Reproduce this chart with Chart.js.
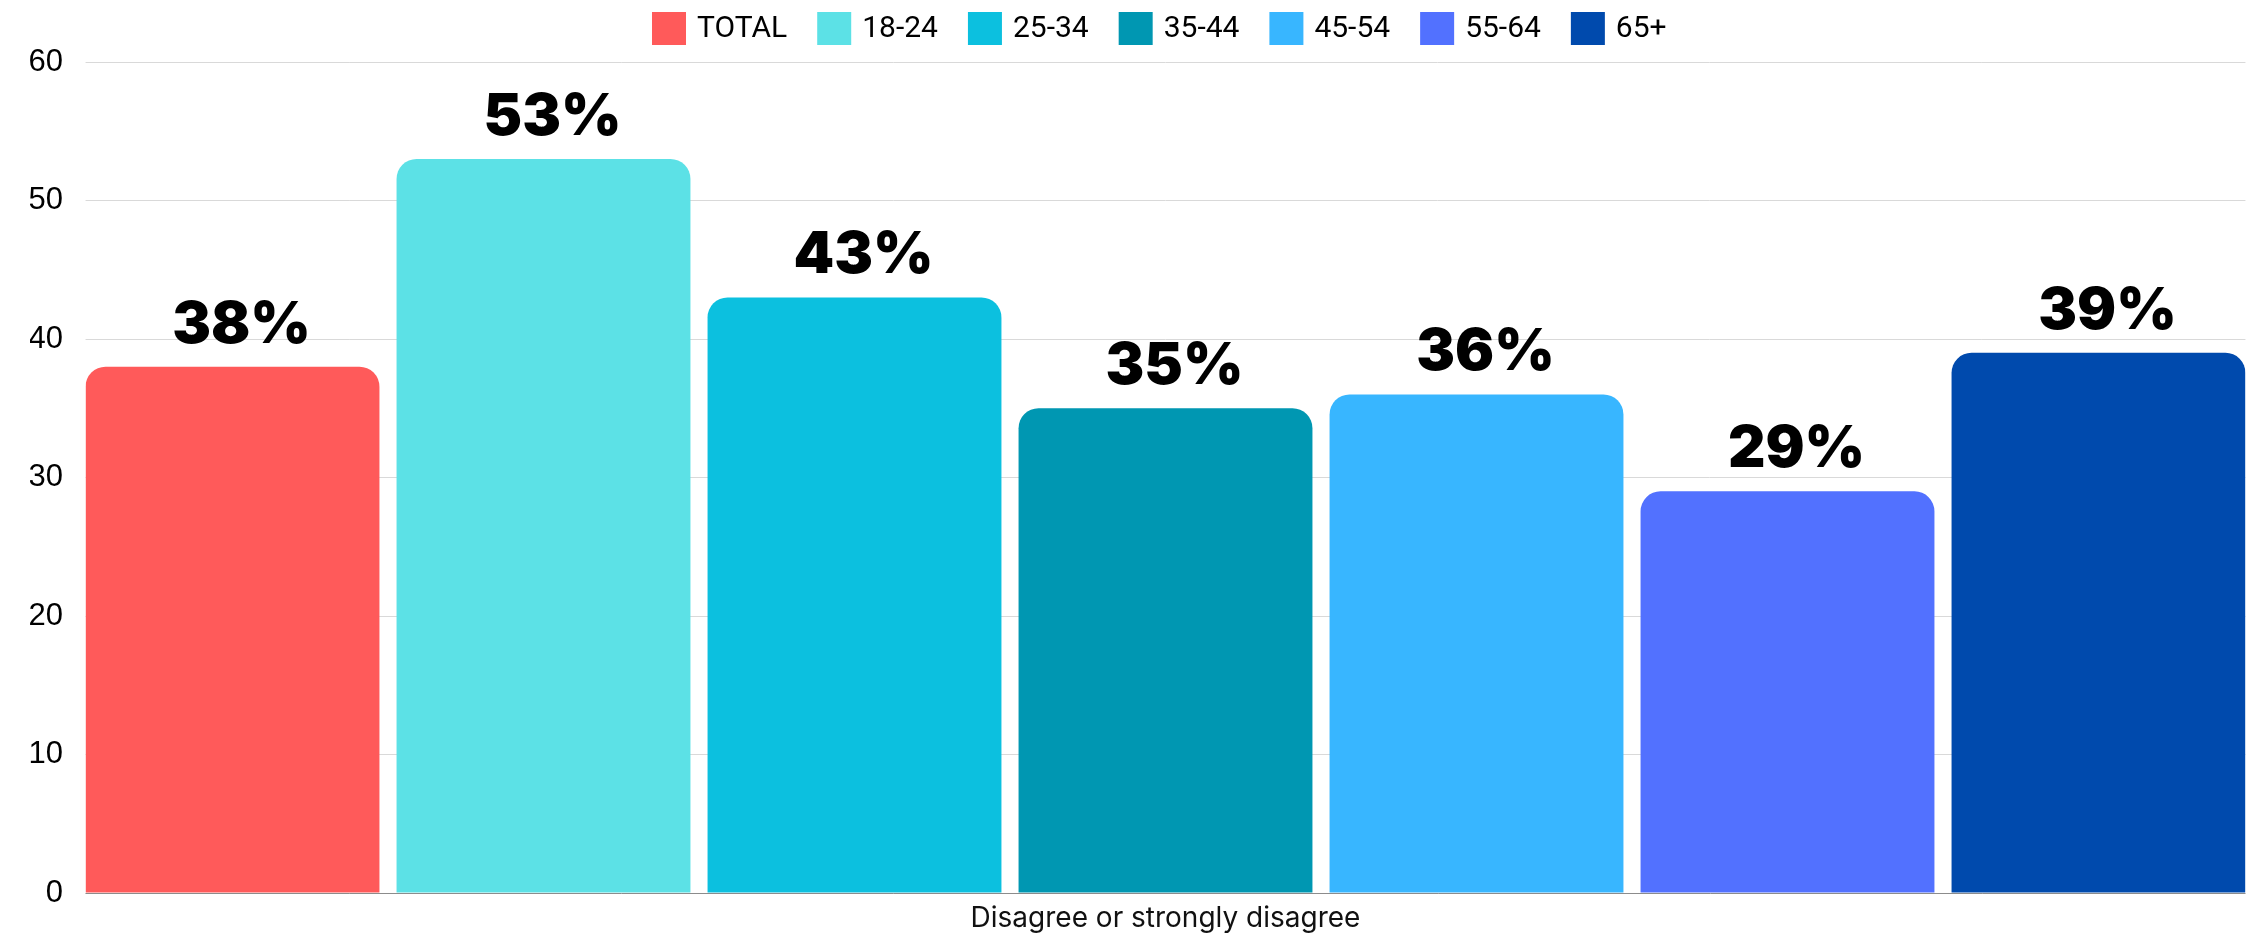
<!DOCTYPE html>
<html>
<head>
<meta charset="utf-8">
<title>Disagree or strongly disagree by age</title>
<script src="https://cdn.jsdelivr.net/npm/chart.js@4.4.1/dist/chart.umd.min.js"></script>
<style>
  html, body { margin: 0; padding: 0; background: #fff; }
  #wrap { width: 2255px; height: 935px; }
</style>
</head>
<body>
<div id="wrap"><canvas id="chart" width="2255" height="935"></canvas></div>
<script>
// -----------------------------
// DATA
// -----------------------------
const categories = ['Disagree or strongly disagree'];
const groups = ['TOTAL', '18-24', '25-34', '35-44', '45-54', '55-64', '65+'];
const values = [38, 53, 43, 35, 36, 29, 39];
const colors = ['#FF5A5A', '#5CE1E6', '#0CC0DF', '#0097B2', '#38B6FF', '#5271FF', '#004AAD'];
const yTicks = [0, 10, 20, 30, 40, 50, 60];

const BAR_PCT = 0.945;

// -----------------------------
// PLUGINS
// -----------------------------
// trims the grid so it starts/ends flush with the outer bars
const edgeTrim = {
  id: 'edgeTrim',
  beforeDraw(chart) {
    const { ctx, chartArea: a } = chart;
    const inset = (a.right - a.left) / groups.length * (1 - BAR_PCT) / 2;
    ctx.save();
    ctx.beginPath();
    ctx.rect(0, 0, chart.width, chart.height);
    ctx.rect(a.left - 1, a.top - 2, inset + 1, a.bottom - a.top + 4);
    ctx.rect(a.right - inset, a.top - 2, inset + 1, a.bottom - a.top + 4);
    ctx.clip('evenodd');
  },
  afterDraw(chart) {
    chart.ctx.restore();
  }
};

// percentage label above each bar
const valueLabels = {
  id: 'valueLabels',
  afterDatasetsDraw(chart) {
    const ctx = chart.ctx;
    ctx.save();
    ctx.font = '900 58px Inter, "DejaVu Sans", sans-serif';
    ctx.fillStyle = '#000';
    ctx.textAlign = 'center';
    ctx.textBaseline = 'alphabetic';
    chart.data.datasets.forEach((ds, i) => {
      const bar = chart.getDatasetMeta(i).data[0];
      ctx.fillText(ds.data[0] + '%', bar.x + 9, bar.y - 24);
    });
    ctx.restore();
  }
};

// legend row across the top
const topLegend = {
  id: 'topLegend',
  afterDraw(chart) {
    const ctx = chart.ctx;
    let x = 652;
    const cy = 28.5;
    ctx.save();
    ctx.font = '30px Roboto, "Liberation Sans", sans-serif';
    ctx.textBaseline = 'middle';
    chart.data.datasets.forEach(ds => {
      ctx.fillStyle = ds.backgroundColor;
      ctx.fillRect(x, cy - 16.5, 34, 33);
      x += 45;
      ctx.fillStyle = '#000';
      ctx.fillText(ds.label, x, cy + 1);
      x += ctx.measureText(ds.label).width + 30;
    });
    ctx.restore();
  }
};

// -----------------------------
// CHART
// -----------------------------
const datasets = groups.map((g, i) => ({
  label: g,
  data: [values[i]],
  backgroundColor: colors[i],
  borderRadius: { topLeft: 20, topRight: 20, bottomLeft: 0, bottomRight: 0 },
  borderSkipped: false,
  barPercentage: BAR_PCT,
  categoryPercentage: 1
}));

new Chart(document.getElementById('chart'), {
  type: 'bar',
  data: { labels: categories, datasets },
  options: {
    responsive: false,
    animation: false,
    devicePixelRatio: 1,
    layout: { padding: { top: 62, left: 30, right: 1, bottom: 0 } },
    plugins: {
      legend: { display: false },
      tooltip: { enabled: false }
    },
    scales: {
      x: {
        grid: { display: false, drawTicks: false },
        border: { display: true, color: '#8c8c8c', width: 1 },
        ticks: {
          color: '#111',
          padding: 9,
          font: { family: 'Inter, "Liberation Sans", sans-serif', size: 28 }
        },
        afterFit: s => { s.height = 42; }
      },
      y: {
        min: 0,
        max: 60,
        afterBuildTicks: s => { s.ticks = yTicks.map(v => ({ value: v })); },
        grid: { color: '#d9d9d9', drawTicks: false },
        border: { display: false },
        ticks: {
          color: '#000',
          padding: 14,
          font: { family: '"Liberation Sans", Arial, sans-serif', size: 31 }
        },
        afterFit: s => { s.width = 47; }
      }
    }
  },
  plugins: [edgeTrim, valueLabels, topLegend]
});
</script>
</body>
</html>
